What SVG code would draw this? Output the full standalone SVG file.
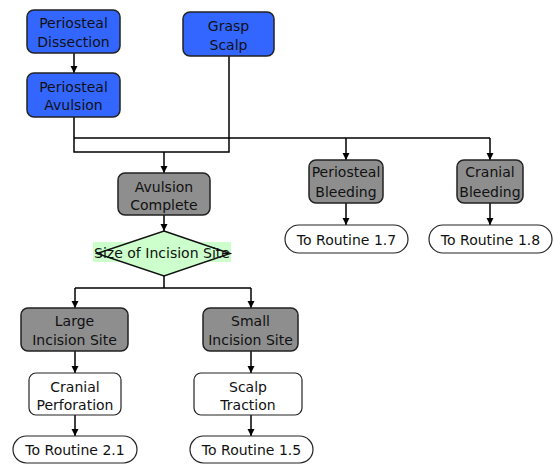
<svg xmlns="http://www.w3.org/2000/svg" width="554" height="464" viewBox="0 0 554 464">
<defs>
<marker id="ah" markerWidth="8" markerHeight="8" refX="7" refY="4" orient="auto" markerUnits="userSpaceOnUse">
<path d="M0,0.5 L7,4 L0,7.5 Z" fill="#000"/>
</marker>
<style>
text{font-family:"DejaVu Sans","Liberation Sans",sans-serif;font-size:14px;fill:#111;text-anchor:middle}
.blue{fill:#3366ff;stroke:#222;stroke-width:1.5}
.gray{fill:#8e8e8e;stroke:#222;stroke-width:1.5}
.white{fill:#fff;stroke:#222;stroke-width:1.2}
.pill{fill:#fff;stroke:#222;stroke-width:1.2}
.c{fill:none;stroke:#000;stroke-width:1.5}
.a{fill:none;stroke:#000;stroke-width:1.5;marker-end:url(#ah)}
</style>
</defs>
<rect width="554" height="464" fill="#fff"/>
<g id="connectors">
<path class="a" d="M74,53 V73"/>
<path class="c" d="M74,117 V152 H229 V56"/>
<path class="c" d="M74,138 H490"/>
<path class="a" d="M164,152 V173"/>
<path class="a" d="M346,138 V160"/>
<path class="a" d="M490,138 V160"/>
<path class="a" d="M346,203 V225"/>
<path class="a" d="M490,203 V225"/>
<path class="a" d="M164,215 V231"/>
<path class="c" d="M164,276 V288 M75,288 H251"/>
<path class="a" d="M75,288 V308"/>
<path class="a" d="M251,288 V308"/>
<path class="a" d="M75,351 V373"/>
<path class="a" d="M251,351 V373"/>
<path class="a" d="M75,415 V436"/>
<path class="a" d="M251,415 V436"/>
</g>
<g id="periosteal-dissection">
<rect class="blue" x="27" y="10" width="93" height="43" rx="7"/>
<text x="73.5" y="28">Periosteal</text>
<text x="73.5" y="47">Dissection</text>
</g>
<g id="periosteal-avulsion">
<rect class="blue" x="27" y="73" width="93" height="44" rx="7"/>
<text x="73.5" y="92">Periosteal</text>
<text x="73.5" y="110">Avulsion</text>
</g>
<g id="grasp-scalp">
<rect class="blue" x="183" y="12" width="91" height="44" rx="7"/>
<text x="228.5" y="31">Grasp</text>
<text x="228.5" y="50">Scalp</text>
</g>
<g id="avulsion-complete">
<rect class="gray" x="118" y="173" width="92" height="42" rx="7"/>
<text x="164" y="192">Avulsion</text>
<text x="164" y="210">Complete</text>
</g>
<g id="periosteal-bleeding">
<rect class="gray" x="309" y="160" width="74" height="43" rx="7"/>
<text x="346" y="177">Periosteal</text>
<text x="346" y="197">Bleeding</text>
</g>
<g id="cranial-bleeding">
<rect class="gray" x="457" y="160" width="66" height="43" rx="7"/>
<text x="490" y="177">Cranial</text>
<text x="490" y="197">Bleeding</text>
</g>
<g id="routine-1-7">
<rect class="pill" x="285" y="225" width="123" height="28" rx="14"/>
<text x="346.5" y="245">To Routine 1.7</text>
</g>
<g id="routine-1-8">
<rect class="pill" x="429" y="225" width="123" height="28" rx="14"/>
<text x="490.5" y="245">To Routine 1.8</text>
</g>
<g id="size-of-incision-site">
<rect x="93" y="242" width="138" height="20" fill="#ccffcc"/>
<polygon points="164,231 230,253.5 164,276 97,253.5" fill="#ccffcc" stroke="#111" stroke-width="1.5"/>
<text x="162" y="258" textLength="136" lengthAdjust="spacingAndGlyphs">Size of Incision Site</text>
</g>
<g id="large-incision-site">
<rect class="gray" x="21" y="308" width="107" height="43" rx="7"/>
<text x="74.5" y="326">Large</text>
<text x="74.5" y="345">Incision Site</text>
</g>
<g id="small-incision-site">
<rect class="gray" x="203" y="308" width="95" height="43" rx="7"/>
<text x="250.5" y="326">Small</text>
<text x="250.5" y="345">Incision Site</text>
</g>
<g id="cranial-perforation">
<rect class="white" x="29" y="373" width="92" height="42" rx="7"/>
<text x="75" y="392">Cranial</text>
<text x="75" y="410">Perforation</text>
</g>
<g id="scalp-traction">
<rect class="white" x="194" y="373" width="108" height="42" rx="7"/>
<text x="248" y="392">Scalp</text>
<text x="248" y="410">Traction</text>
</g>
<g id="routine-2-1">
<rect class="pill" x="13" y="436" width="124" height="27" rx="13.5"/>
<text x="75" y="455">To Routine 2.1</text>
</g>
<g id="routine-1-5">
<rect class="pill" x="190" y="436" width="123" height="27" rx="13.5"/>
<text x="251.5" y="455">To Routine 1.5</text>
</g>
</svg>
